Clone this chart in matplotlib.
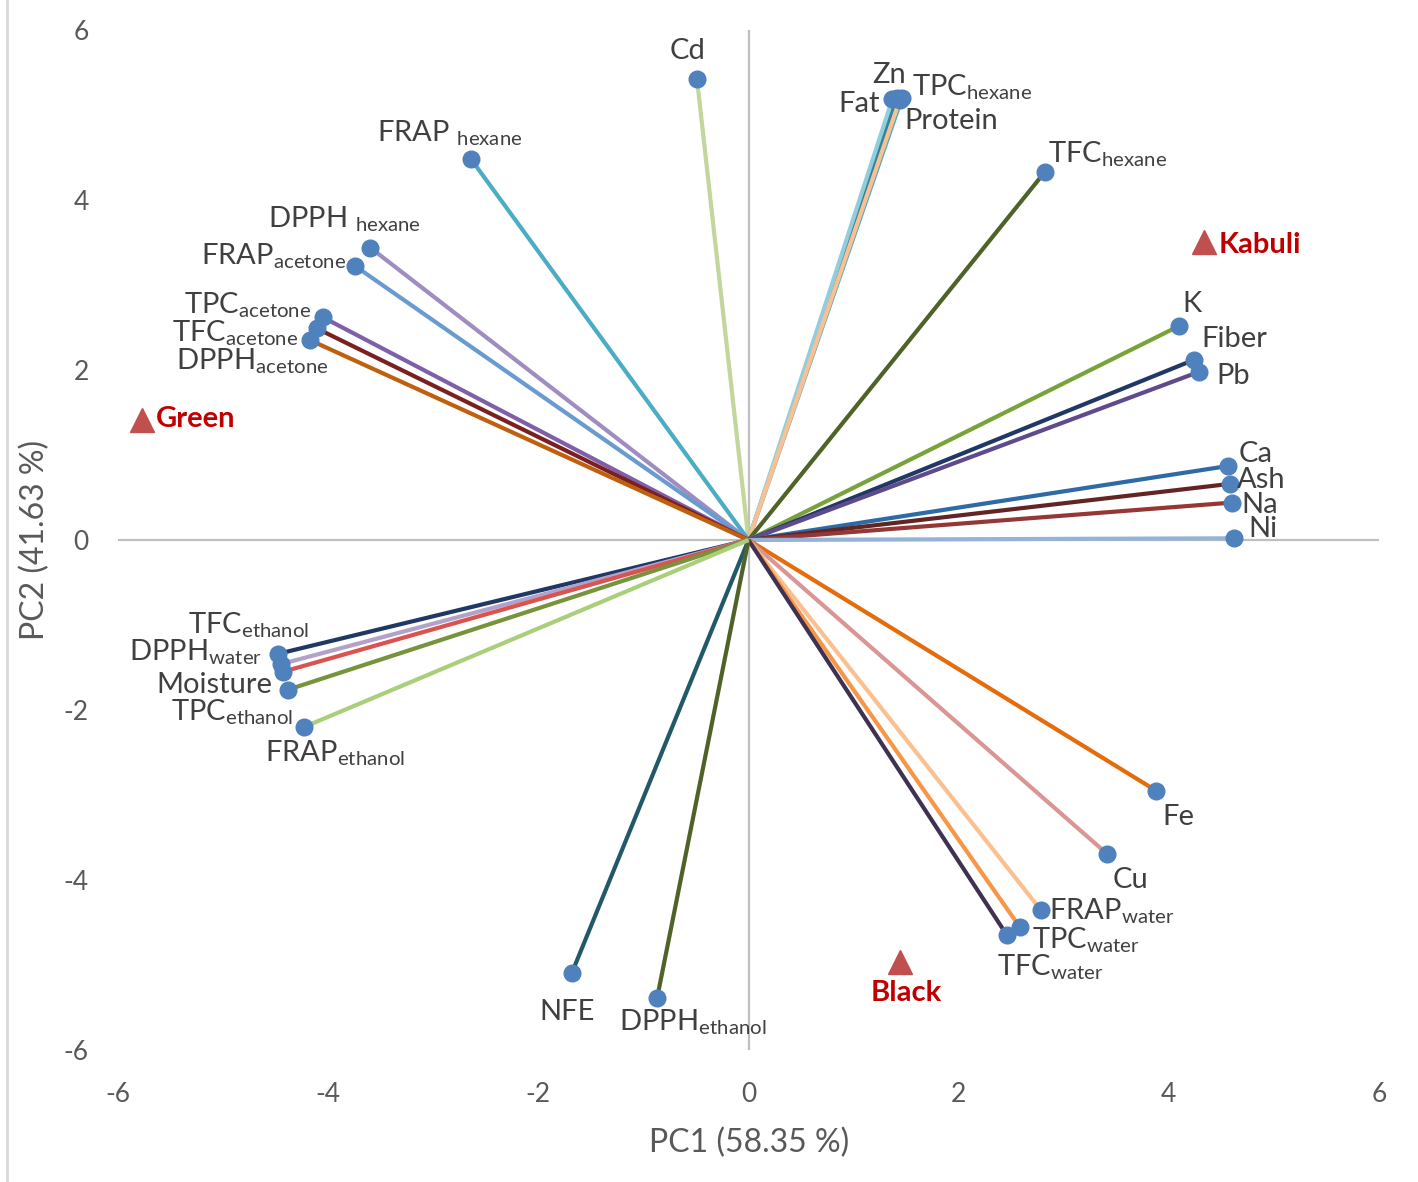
#!/usr/bin/env python3
"""
PCA biplot: loadings of the chickpea variables and the three cultivars
"""

import matplotlib
matplotlib.use('Agg')
import matplotlib.pyplot as plt
from matplotlib.lines import Line2D

plt.rcParams['font.family'] = ['Lato', 'DejaVu Sans']
plt.rcParams['mathtext.fontset'] = 'custom'
plt.rcParams['mathtext.rm'] = 'Lato'
plt.rcParams['mathtext.it'] = 'Lato:italic'
plt.rcParams['mathtext.bf'] = 'Lato:bold'

# loadings
variables = ['Cd', 'Zn', 'TPC_hexane', 'Fat', 'Protein', 'FRAP_hexane', 'TFC_hexane',
             'DPPH_hexane', 'FRAP_acetone', 'TPC_acetone', 'TFC_acetone', 'DPPH_acetone',
             'K', 'Fiber', 'Pb', 'Ca', 'Ash', 'Na', 'Ni', 'Fe', 'Cu',
             'FRAP_water', 'TPC_water', 'TFC_water', 'NFE', 'DPPH_ethanol',
             'TFC_ethanol', 'DPPH_water', 'Moisture', 'TPC_ethanol', 'FRAP_ethanol']
pc1 = [-0.49, 1.41, 1.46, 1.37, 1.44, -2.64, 2.82,
       -3.60, -3.74, -4.05, -4.11, -4.17,
       4.10, 4.24, 4.29, 4.56, 4.58, 4.60, 4.62, 3.88, 3.41,
       2.78, 2.58, 2.46, -1.68, -0.87,
       -4.48, -4.45, -4.43, -4.38, -4.23]
pc2 = [5.42, 5.20, 5.20, 5.19, 5.18, 4.48, 4.33,
       3.44, 3.22, 2.62, 2.49, 2.35,
       2.52, 2.12, 1.98, 0.87, 0.66, 0.44, 0.02, -2.95, -3.69,
       -4.35, -4.55, -4.65, -5.09, -5.39,
       -1.34, -1.46, -1.55, -1.76, -2.20]
var_labels = ['Cd', 'Zn', r'TPC$_{\mathrm{hexane}}$', 'Fat', 'Protein',
              r'FRAP $_{\mathrm{hexane}}$', r'TFC$_{\mathrm{hexane}}$',
              r'DPPH $_{\mathrm{hexane}}$', r'FRAP$_{\mathrm{acetone}}$',
              r'TPC$_{\mathrm{acetone}}$', r'TFC$_{\mathrm{acetone}}$',
              r'DPPH$_{\mathrm{acetone}}$',
              'K', 'Fiber', 'Pb', 'Ca', 'Ash', 'Na', 'Ni', 'Fe', 'Cu',
              r'FRAP$_{\mathrm{water}}$', r'TPC$_{\mathrm{water}}$', r'TFC$_{\mathrm{water}}$',
              'NFE', r'DPPH$_{\mathrm{ethanol}}$',
              r'TFC$_{\mathrm{ethanol}}$', r'DPPH$_{\mathrm{water}}$', 'Moisture',
              r'TPC$_{\mathrm{ethanol}}$', r'FRAP$_{\mathrm{ethanol}}$']

# cultivar scores
cultivars = ['Green', 'Kabuli', 'Black']
cult_pc1 = [-5.77, 4.33, 1.44]
cult_pc2 = [1.41, 3.51, -4.96]

# styling
line_colors = ['#c3d69b', '#31859c', '#4bacc6', '#93cddd', '#fac090', '#4bacc6', '#4f6228',
               '#9f8cc0', '#6a9bd0', '#7f5fa8', '#7b2020', '#c0600e',
               '#77a33a', '#1f3864', '#5f4a8b', '#2e6aa6', '#632523', '#953735', '#95b3d7',
               '#e46c0a', '#d99694', '#fac090', '#f79646', '#3f3151', '#215968', '#4f6228',
               '#1f3864', '#b3a2c7', '#d9534f', '#77933c', '#a9cf7a']
# label offsets in pixels (dx, dy up) and horizontal alignment
label_pos = [(-9, 20, 'center'), (-8, 15, 'center'), (10, 2, 'left'), (-13, -13, 'right'),
             (5, -29, 'left'), (-94, 18, 'left'), (3, 9, 'left'),
             (-102, 20, 'left'), (-9, 2, 'right'), (-12, 4, 'right'), (-18, -13, 'right'),
             (18, -29, 'right'),
             (13, 14, 'center'), (7, 13, 'left'), (17, -12, 'left'), (11, 4, 'left'),
             (7, -4, 'left'), (9, -10, 'left'), (14, 1, 'left'), (6, -34, 'left'),
             (6, -34, 'left'),
             (8, -10, 'left'), (12, -22, 'left'), (-10, -40, 'left'), (-5, -47, 'center'),
             (-38, -32, 'left'),
             (32, 20, 'right'), (-19, 4, 'right'), (-11, -21, 'right'), (5, -31, 'right'),
             (-39, -35, 'left')]
cult_pos = [(14, -7, 'left'), (15, -11, 'left'), (6, -39, 'center')]

fig = plt.figure(figsize=(14.18, 11.82), dpi=100)
ax = fig.add_axes([118 / 1418, 1 - 1050 / 1182, 1261 / 1418, 1020 / 1182])

ax.axhline(0, color='#bfbfbf', lw=1.6, zorder=1)
ax.axvline(0, color='#bfbfbf', lw=1.6, zorder=1)

for i, name in enumerate(variables):
    ax.plot([0, pc1[i]], [0, pc2[i]], color=line_colors[i], lw=3,
            solid_capstyle='butt', zorder=2)
for i, name in enumerate(variables):
    ax.plot(pc1[i], pc2[i], 'o', color='#4f81bd', ms=12, mec='#4f81bd', zorder=3)
    dx, dy, ha = label_pos[i]
    ax.annotate(var_labels[i], (pc1[i], pc2[i]), xytext=(dx, dy),
                textcoords='offset pixels', ha=ha, va='baseline',
                fontsize=21, color='#404040', zorder=4)

for i, name in enumerate(cultivars):
    ax.plot(cult_pc1[i], cult_pc2[i], '^', color='#c0504d', ms=17, mec='#c0504d', zorder=3)
    dx, dy, ha = cult_pos[i]
    ax.annotate(name, (cult_pc1[i], cult_pc2[i]), xytext=(dx, dy),
                textcoords='offset pixels', ha=ha, va='baseline',
                fontsize=21, fontweight='bold', color='#c00000', zorder=4)

ax.set_xlim(-6, 6)
ax.set_ylim(-6, 6)
ax.set_xticks([-6, -4, -2, 0, 2, 4, 6])
ax.set_yticks([-6, -4, -2, 0, 2, 4, 6])
ax.set_xticklabels(['-6', '-4', '-2', '0', '2', '4', '6'])
ax.set_yticklabels(['-6', '-4', '-2', '0', '2', '4', '6'])
ax.tick_params(length=0, labelsize=19, labelcolor='#595959')
ax.tick_params(axis='x', pad=23)
ax.tick_params(axis='y', pad=21)
for s in ax.spines.values():
    s.set_visible(False)

fig.text(749 / 1418, 1 - 1143 / 1182, 'PC1 (58.35 %)', ha='center', va='center',
         fontsize=23, color='#595959')
fig.text(35 / 1418, 1 - 540 / 1182, 'PC2 (41.63 %)', ha='center', va='center',
         rotation=90, fontsize=23, color='#595959')
fig.add_artist(Line2D([7 / 1418, 7 / 1418], [0, 1], color='#d9d9d9', lw=2))

plt.savefig('out.png', dpi=100)
plt.close('all')
